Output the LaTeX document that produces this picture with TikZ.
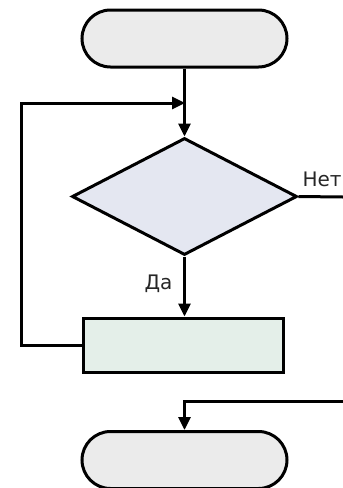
\documentclass[tikz,border=0pt]{standalone}
\usepackage{fontspec}
\setmainfont{DejaVu Sans}
\usetikzlibrary{shapes.geometric,arrows.meta}
\definecolor{termfill}{HTML}{EBEBEB}
\definecolor{decfill}{HTML}{E4E7F1}
\definecolor{procfill}{HTML}{E4EFE9}
\begin{document}
\begin{tikzpicture}[x=1pt,y=-1pt,
  line width=3pt,
  terminal/.style={draw=black,fill=termfill,rounded corners=28.5pt,minimum width=205pt,minimum height=57pt,inner sep=0pt},
  decision/.style={draw=black,fill=decfill,diamond,minimum width=225pt,minimum height=117pt,inner sep=0pt},
  process/.style={draw=black,fill=procfill,minimum width=200pt,minimum height=54pt,inner sep=0pt},
  arr/.style={-{Triangle[width=12pt,length=13pt]}},
  lbl/.style={font=\fontsize{20}{24}\selectfont,text=black!85,inner sep=0pt}]
\useasboundingbox (0,0) rectangle (343,488);
\node[terminal] (start) at (184.5,38.5) {};
\node[decision] (cond) at (184.5,196.5) {};
\node[process] (proc) at (183,345) {};
\node[terminal] (stop) at (184.5,460) {};
\coordinate (join) at (185,103);
\coordinate (noend) at (343,197);
\coordinate (backin) at (343,401);
\draw[arr] (start.south) -- (cond.north);
\draw[arr] (cond.south) -- (proc.north -| cond.south);
\draw[arr] (proc.west) -- ++(-60,0) |- (join);
\draw (cond.east) -- (noend);
\draw[arr] (backin) -| (stop.north);
\node[lbl,anchor=base west] (no) at (301,186) {Нет};
\node[lbl,anchor=base east] (yes) at (174,289) {Да};
\end{tikzpicture}
\end{document}
